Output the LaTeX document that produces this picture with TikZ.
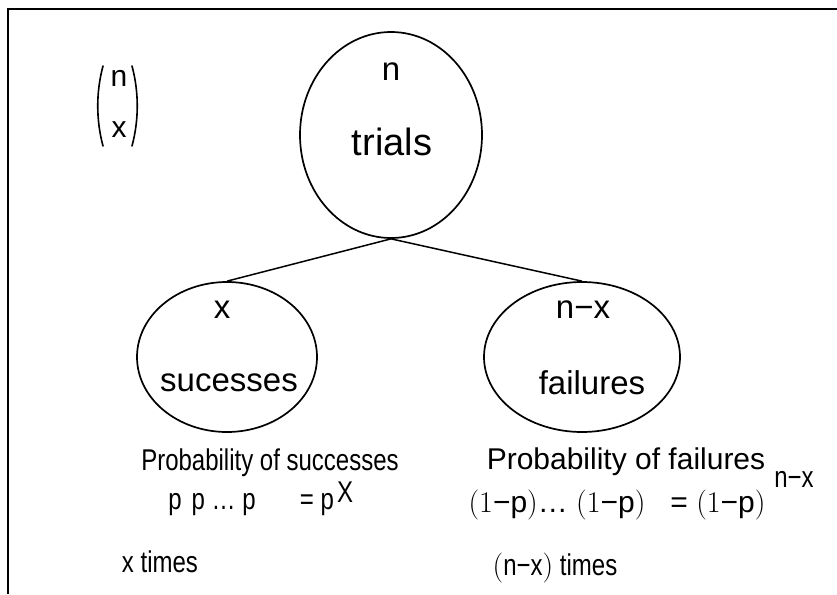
\documentclass[tikz,border=0pt]{standalone}
\usepackage{fontspec}
\newfontfamily\arialfont{Liberation Sans}
\newfontfamily\arialnarrow[FakeStretch=0.8]{Liberation Sans}
\usepackage{tikz}
\usetikzlibrary{positioning,shapes.geometric}
\tikzset{
  bt/.style={font=\arialfont\fontsize{33}{38}\selectfont, inner sep=0pt},
  bt small/.style={font=\arialnarrow\fontsize{30}{34}\selectfont, inner sep=0pt},
  bt wide/.style={font=\arialfont\fontsize{30}{34}\selectfont, inner sep=0pt},
  bt oval/.style={ellipse, draw, line width=1.7pt, inner sep=0pt},
  bt line/.style={line width=1.5pt},
  bt paren/.style={line width=1.6pt, line cap=round},
}
\begin{document}
\begin{tikzpicture}[x=1pt, y=-1pt]
  \useasboundingbox (0,0) rectangle (837,594);
  % frame, top and left only
  \coordinate (fr0) at (837,9); \coordinate (fr1) at (8,9); \coordinate (fr2) at (8,594);
  \draw[line width=2pt] (fr0) -- (fr1) -- (fr2);
  % binomial coefficient
  \node[bt wide] (bn) at (119,78) {n};
  \node[bt wide] (bx) at (119,130) {x};
  \draw[bt paren] (103,66) .. controls (96,92) and (96,120) .. (103,146);
  \draw[bt paren] (132,66) .. controls (139,92) and (139,120) .. (132,146);
  % tree
  \node[bt oval, minimum width=182pt, minimum height=206pt] (trials) at (391,135) {};
  \node[bt oval, minimum width=180pt, minimum height=150pt] (succ) at (227,357) {};
  \node[bt oval, minimum width=196pt, minimum height=150pt] (fail) at (582,357) {};
  \draw[bt line] (trials.south) -- (succ.north);
  \draw[bt line] (trials.south) -- (fail.north);
  \node[bt] (tn) at (391,72) {n};
  \node[bt, font=\arialfont\fontsize{38}{42}\selectfont] (tt) at (392,142) {trials};
  \node[bt] (sx) at (222,310) {x};
  \node[bt] (ss) at (229,383) {sucesses};
  \node[bt] (fx) at (583,310) {n−x};
  \node[bt] (ff) at (592,383) {failures};
  % probabilities
  \node[bt small] (ps) at (270,463) {Probability of successes};
  \node[bt small] (psf) at (212,505) {p\,\,p \ldots\ p};
  \node[bt small] (pse) at (317,505) {= p};
  \node[bt small] (psx) at (345,492) {X};
  \node[bt small] (pst) at (160,562) {x times};
  \node[bt wide] (pf) at (626,462) {Probability of failures};
  \node[bt wide] (pff) at (557,505) {{\rmfamily(1}−p{\rmfamily)}\ldots\ {\rmfamily(1}−p{\rmfamily)}};
  \node[bt wide] (pfe) at (718,505) {= {\rmfamily(1}−p{\rmfamily)}};
  \node[bt small] (pfx) at (794,479) {n−x};
  \node[bt small] (pft) at (555,568) {{\rmfamily(}n−x{\rmfamily)} times};
\end{tikzpicture}
\end{document}
